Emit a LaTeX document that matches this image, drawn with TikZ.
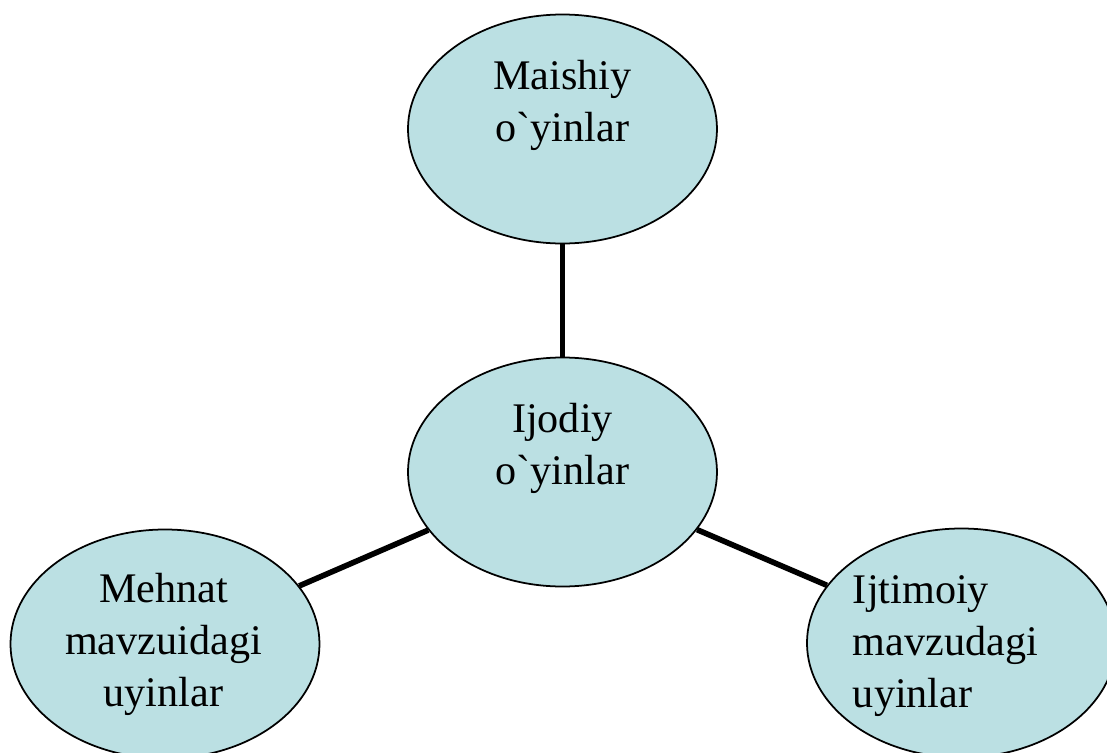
\documentclass[tikz,border=0pt]{standalone}
\usepackage{fontspec}
\setmainfont{Liberation Serif}
\usepackage{tikz}
\usetikzlibrary{shapes.geometric}
\definecolor{bubblefill}{RGB}{187,224,227}
\tikzstyle{link} = [line width=1.6pt]
\tikzstyle{bubble} = [ellipse,draw,line width=0.5pt,fill=bubblefill,minimum width=3.09cm,minimum height=2.29cm]
\tikzstyle{lbl} = [align=center,font=\fontsize{12}{14.8}\selectfont]

\begin{document}
\begin{tikzpicture}
          \useasboundingbox (0,0) rectangle (11.07,-7.53);
          \node[bubble, label={[lbl,yshift=2.4mm]center:{Maishiy\\o\textasciigrave yinlar}}] at (5.625,-1.29) (maishiy) {};
          \node[bubble, label={[lbl,yshift=2.4mm]center:{Ijodiy\\o\textasciigrave yinlar}}] at (5.625,-4.72) (ijodiy) {};
          \node[bubble, label={[lbl,yshift=0mm,xshift=-0.15mm]center:{Mehnat\\mavzuidagi\\uyinlar}}] at (1.65,-6.44) (mehnat) {};
          \node[bubble, label={[lbl,align=left,yshift=-0.3mm,xshift=-1.6mm]center:{Ijtimoiy\\mavzudagi\\uyinlar}}] at (9.615,-6.43) (ijtimoiy) {};

          \draw[link] (maishiy) -- (ijodiy);
          \draw[link] (ijodiy) -- (mehnat);
          \draw[link] (ijodiy) -- (ijtimoiy);
\end{tikzpicture}
\end{document}
